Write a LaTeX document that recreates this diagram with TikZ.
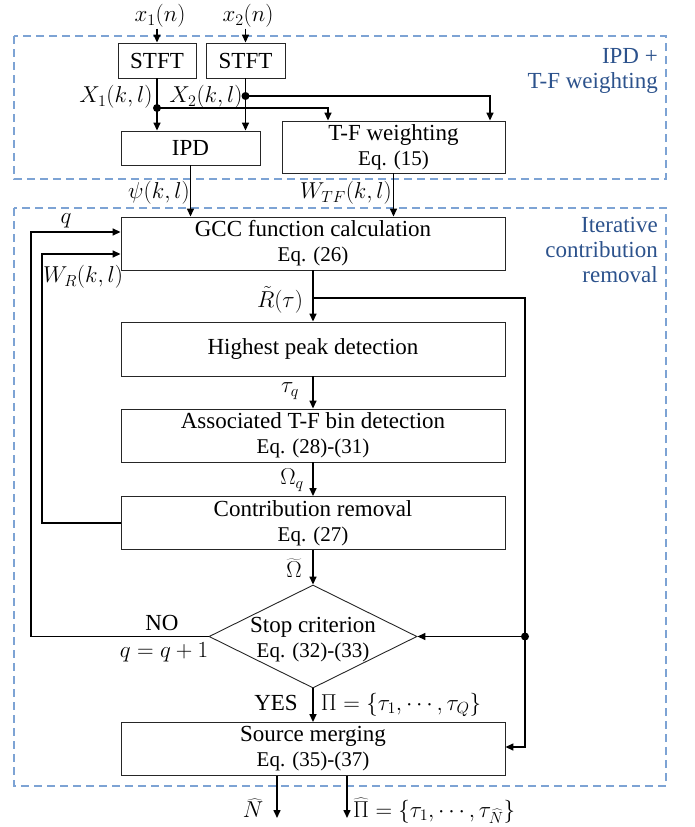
\documentclass[tikz,border=0pt]{standalone}
\usepackage{fix-cm}
\usepackage{fontspec}
\setmainfont{Liberation Serif}
\usetikzlibrary{shapes.geometric,arrows.meta}

\definecolor{framecol}{RGB}{125,163,212}
\definecolor{titlecol}{RGB}{44,82,140}

\newcommand{\mainsz}{\fontsize{23}{25}\selectfont}
\newcommand{\eqsz}{\fontsize{21}{25}\selectfont}

\tikzset{
  block/.style={draw=black!85, line width=0.9pt, align=center, inner sep=0pt},
  wide/.style={block, minimum width=384pt, minimum height=53pt},
  decision/.style={diamond, draw=black!85, line width=0.9pt, inner sep=0pt,
    minimum width=208pt, minimum height=103pt},
  lab/.style={inner sep=1pt},
  title/.style={text=titlecol, align=right, inner sep=0pt},
  frame/.style={draw=framecol, line width=1.3pt, dash pattern=on 8pt off 5pt},
  arr/.style={-{Triangle[length=8pt,width=7pt]}, line width=1.5pt},
  link/.style={line width=2.4pt}
}

\begin{document}
\begin{tikzpicture}[x=1pt, y=-1pt, font=\mainsz]
\useasboundingbox (0,0) rectangle (695,827);

% dashed groups
\draw[frame] (14,36) rectangle (666,179);
\draw[frame] (14,208) rectangle (666,786);
\node[title, anchor=east] (ttop) at (658,70.5) {IPD +\\T-F weighting};
\node[title, anchor=east] (tloop) at (658,250) {Iterative\\contribution\\removal};

% blocks
\node[block, minimum width=78pt, minimum height=35pt] (stft1) at (157,60.5) {STFT};
\node[block, minimum width=79pt, minimum height=35pt] (stft2) at (245.5,60.5) {STFT};
\node[block, minimum width=139pt, minimum height=34pt] (ipd) at (190.5,148) {IPD};
\node[block, minimum width=223pt, minimum height=52pt] (tfw) at (393.5,147) {T-F weighting\\\eqsz Eq. (15)};
\node[wide] (gcc) at (313,243.5) {GCC function calculation\\\eqsz Eq. (26)};
\node[wide, minimum height=54pt] (peak) at (313,349) {Highest peak detection};
\node[wide] (assoc) at (313,435.5) {Associated T-F bin detection\\\eqsz Eq. (28)-(31)};
\node[wide] (remove) at (313,523) {Contribution removal\\\eqsz Eq. (27)};
\node[decision, label={[align=center, yshift=-3pt]center:{Stop criterion\\\eqsz Eq. (32)-(33)}}] (stop) at (313,636.5) {};
\node[wide] (merge) at (313,749) {Source merging\\\eqsz Eq. (35)-(37)};

% inputs
\node[lab] (x1) at (160,16) {$x_1(n)$};
\node[lab] (x2) at (248,16) {$x_2(n)$};
\draw[arr] (x1.south -| stft1.north) -- (stft1.north);
\draw[arr] (x2.south -| stft2.north) -- (stft2.north);

% STFT outputs
\coordinate (x1tap) at (stft1.south |- 0,108);
\coordinate (x2tap) at (stft2.south |- 0,96);
\draw[arr] (stft1) -- (stft1 |- ipd.north);
\draw[arr] (stft2) -- (stft2 |- ipd.north);
\draw[link, arr] (x1tap) -| ([xshift=-65.5pt]tfw.north);
\draw[link, arr] (x2tap) -| ([xshift=96.5pt]tfw.north);
\fill (x1tap) circle (4pt);
\fill (x2tap) circle (4pt);
\node[lab] (X1) at (116,97) {$X_1(k,l)$};
\node[lab] (X2) at (206,97) {$X_2(k,l)$};

% into GCC
\draw[arr] (ipd) -- (ipd |- gcc.north);
\draw[arr] (tfw) -- (tfw |- gcc.north);
\node[lab] (psi) at (159,193) {$\psi(k,l)$};
\node[lab] (wtf) at (346,193) {$W_{TF}(k,l)$};

% main chain
\draw[arr] (gcc) -- (peak);
\draw[arr] (peak) -- (assoc);
\draw[arr] (assoc) -- (remove);
\draw[arr] (remove) -- (stop);
\draw[arr] (stop) -- (merge);
\node[lab] (rt) at (280,300) {$\tilde{R}(\tau)$};
\node[lab] (tq) at (290,391) {$\tau_q$};
\node[lab] (omq) at (292,480) {$\Omega_q$};
\node[lab] (omt) at (294,568) {$\widetilde{\Omega}$};
\node[lab] (yes) at (276,703) {YES};
\node[lab] (piq) at (401,705) {$\Pi=\{\tau_1,\cdots,\tau_Q\}$};

% GCC output to stop test and merging
\coordinate (rtap) at (gcc.south |- 0,298);
\coordinate (rjoin) at (525,0 |- stop.east);
\draw[link] (rtap) -| (rjoin);
\draw[link, arr] (rjoin) -- (stop.east);
\draw[link, arr] (rjoin) |- ([yshift=2pt]merge.east);
\fill (rjoin) circle (4pt);

% feedback loops
\coordinate (qbend) at (31,232);
\coordinate (wbend) at (42,254);
\draw[link, arr] (stop.west) -| (qbend) -- (qbend -| gcc.west);
\draw[link, arr] (remove.west) -| (wbend) -- (wbend -| gcc.west);
\node[lab] (qlab) at (66,221) {$q$};
\node[lab] (wr) at (83,277) {$W_R(k,l)$};
\node[lab] (no) at (162,623) {NO};
\node[lab] (qinc) at (164,652) {$q=q+1$};

% outputs
\coordinate (nout) at (277,818);
\coordinate (piout) at (347,818);
\draw[arr] (merge.south -| nout) -- (nout);
\draw[arr] (merge.south -| piout) -- (piout);
\node[lab] (nhat) at (253,808) {$\widehat{N}$};
\node[lab, anchor=west] (pihat) at (352,811) {$\widehat{\Pi}=\{\tau_1,\cdots,\tau_{\widehat{N}}\}$};
\end{tikzpicture}
\end{document}
